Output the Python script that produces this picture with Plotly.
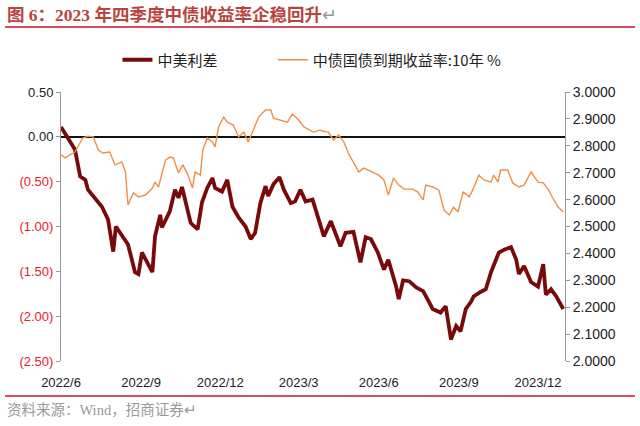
import plotly.graph_objects as go
import pandas as pd

# 中美利差 (左轴)
spread_dates = [
    '2022-06-01', '2022-06-09', '2022-06-17', '2022-06-23', '2022-06-29', '2022-07-02',
    '2022-07-10', '2022-07-18', '2022-07-25', '2022-07-31', '2022-08-03', '2022-08-10',
    '2022-08-17', '2022-08-25', '2022-08-29', '2022-09-02', '2022-09-08', '2022-09-14',
    '2022-09-17', '2022-09-23', '2022-09-25', '2022-10-04', '2022-10-10', '2022-10-14',
    '2022-10-18', '2022-10-28', '2022-10-30', '2022-11-05', '2022-11-10', '2022-11-16',
    '2022-11-22', '2022-11-25', '2022-12-03', '2022-12-09', '2022-12-15', '2022-12-22',
    '2022-12-30', '2023-01-05', '2023-01-10', '2023-01-16', '2023-01-22', '2023-01-25',
    '2023-01-31', '2023-02-07', '2023-02-12', '2023-02-20', '2023-02-25', '2023-03-03',
    '2023-03-09', '2023-03-17', '2023-03-24', '2023-03-30', '2023-04-07', '2023-04-12',
    '2023-04-18', '2023-04-24', '2023-05-03', '2023-05-11', '2023-05-17', '2023-05-23',
    '2023-05-31', '2023-06-07', '2023-06-12', '2023-06-21', '2023-06-24', '2023-06-29',
    '2023-07-06', '2023-07-14', '2023-07-22', '2023-07-27', '2023-08-02', '2023-08-11',
    '2023-08-17', '2023-08-23', '2023-08-29', '2023-09-03', '2023-09-09', '2023-09-15',
    '2023-09-18', '2023-09-26', '2023-10-02', '2023-10-08', '2023-10-11', '2023-10-17',
    '2023-10-23', '2023-10-31', '2023-11-06', '2023-11-09', '2023-11-15', '2023-11-23',
    '2023-12-01', '2023-12-07', '2023-12-10', '2023-12-16', '2023-12-22', '2023-12-30',
]
spread = [
    0.11, -0.01, -0.14, -0.44, -0.48, -0.59,
    -0.68, -0.78, -0.92, -1.28, -1.00, -1.11,
    -1.20, -1.51, -1.53, -1.29, -1.40, -1.51,
    -1.11, -0.87, -1.01, -0.83, -0.59, -0.68,
    -0.56, -0.96, -0.98, -1.03, -0.73, -0.57,
    -0.46, -0.57, -0.61, -0.48, -0.78, -0.90,
    -1.00, -1.14, -1.07, -0.74, -0.55, -0.66,
    -0.53, -0.45, -0.59, -0.74, -0.72, -0.59,
    -0.72, -0.70, -0.92, -1.11, -0.94, -1.07,
    -1.22, -1.07, -1.06, -1.40, -1.12, -1.14,
    -1.29, -1.48, -1.37, -1.67, -1.81, -1.60,
    -1.61, -1.68, -1.72, -1.81, -1.92, -1.96,
    -1.89, -2.26, -2.11, -2.17, -1.92, -1.84,
    -1.78, -1.73, -1.70, -1.51, -1.44, -1.29,
    -1.26, -1.23, -1.37, -1.53, -1.44, -1.62,
    -1.67, -1.42, -1.76, -1.70, -1.78, -1.92,
]

# 中债国债到期收益率:10年 (右轴)
yield_dates = [
    '2022-06-01', '2022-06-06', '2022-06-11', '2022-06-17', '2022-06-26', '2022-07-02',
    '2022-07-08', '2022-07-14', '2022-07-19', '2022-07-27', '2022-08-02', '2022-08-10',
    '2022-08-14', '2022-08-17', '2022-08-23', '2022-08-29', '2022-09-06', '2022-09-14',
    '2022-09-17', '2022-09-21', '2022-09-29', '2022-10-04', '2022-10-08', '2022-10-14',
    '2022-10-19', '2022-10-25', '2022-10-30', '2022-11-02', '2022-11-08', '2022-11-11',
    '2022-11-16', '2022-11-22', '2022-11-25', '2022-11-29', '2022-12-05', '2022-12-09',
    '2022-12-16', '2022-12-22', '2022-12-28', '2023-01-02', '2023-01-08', '2023-01-14',
    '2023-01-22', '2023-01-28', '2023-01-31', '2023-02-10', '2023-02-16', '2023-02-22',
    '2023-03-01', '2023-03-07', '2023-03-18', '2023-03-26', '2023-03-28', '2023-04-04',
    '2023-04-10', '2023-04-16', '2023-04-22', '2023-04-27', '2023-05-03', '2023-05-09',
    '2023-05-15', '2023-05-20', '2023-05-26', '2023-06-01', '2023-06-07', '2023-06-12',
    '2023-06-18', '2023-06-24', '2023-06-30', '2023-07-10', '2023-07-16', '2023-07-22',
    '2023-07-25', '2023-08-02', '2023-08-09', '2023-08-15', '2023-08-21', '2023-08-26',
    '2023-08-31', '2023-09-06', '2023-09-13', '2023-09-17', '2023-09-24', '2023-09-30',
    '2023-10-08', '2023-10-11', '2023-10-16', '2023-10-19', '2023-10-27', '2023-11-02',
    '2023-11-09', '2023-11-15', '2023-11-23', '2023-12-01', '2023-12-07', '2023-12-13',
    '2023-12-18', '2023-12-24', '2023-12-30',
]
yield10 = [
    2.766, 2.755, 2.766, 2.777, 2.829, 2.836,
    2.833, 2.784, 2.773, 2.777, 2.729, 2.740,
    2.703, 2.580, 2.625, 2.610, 2.617, 2.643,
    2.665, 2.647, 2.747, 2.758, 2.755, 2.699,
    2.729, 2.691, 2.643, 2.703, 2.691, 2.784,
    2.829, 2.814, 2.796, 2.870, 2.907, 2.888,
    2.877, 2.833, 2.851, 2.814, 2.859, 2.907,
    2.933, 2.933, 2.903, 2.892, 2.888, 2.918,
    2.896, 2.870, 2.851, 2.859, 2.855, 2.851,
    2.822, 2.840, 2.814, 2.773, 2.740, 2.703,
    2.717, 2.710, 2.699, 2.691, 2.673, 2.617,
    2.680, 2.654, 2.639, 2.639, 2.628, 2.599,
    2.654, 2.647, 2.636, 2.561, 2.543, 2.572,
    2.554, 2.628, 2.610, 2.636, 2.691, 2.673,
    2.665, 2.691, 2.665, 2.710, 2.710, 2.662,
    2.647, 2.654, 2.703, 2.665, 2.662, 2.636,
    2.606, 2.572, 2.554,
]

x_ticks = ['2022-06-01', '2022-09-01', '2022-12-01', '2023-03-01', '2023-06-01', '2023-09-01', '2023-12-01']
x_labels = ['2022/6', '2022/9', '2022/12', '2023/3', '2023/6', '2023/9', '2023/12']
left_ticks = [0.5, 0.0, -0.5, -1.0, -1.5, -2.0, -2.5]
right_ticks = [3.0, 2.9, 2.8, 2.7, 2.6, 2.5, 2.4, 2.3, 2.2, 2.1, 2.0]


def fmt_left(v):
    if v < 0:
        return f"<span style='color:#E8202A'>({abs(v):.2f})</span>"
    return f"{v:.2f}"


fig = go.Figure()
# 图例间距用不换行空格撑开
fig.add_trace(go.Scatter(x=pd.to_datetime(spread_dates), y=spread, name='中美利差' + '\u00a0' * 15,
                         mode='lines', line=dict(color='#7A0A0A', width=3.8)))
fig.add_trace(go.Scatter(x=pd.to_datetime(yield_dates), y=yield10, name='中债国债到期收益率:10年 %',
                         mode='lines', line=dict(color='#F09048', width=1.4), yaxis='y2'))

axis_font = dict(family='Liberation Sans, Arial', size=13, color='#222')

fig.update_layout(
    width=640, height=426,
    margin=dict(l=61, r=75, t=92, b=65, autoexpand=False),
    paper_bgcolor='white', plot_bgcolor='white',
    showlegend=True,
    legend=dict(orientation='h', x=0.112, y=1.119, xanchor='left', yanchor='middle',
                font=dict(family='Noto Sans CJK SC', size=15, color='#222'),
                tracegroupgap=0, itemwidth=30, bgcolor='rgba(0,0,0,0)'),
    xaxis=dict(type='date', range=['2022-06-01', '2024-01-01'],
               tickvals=x_ticks, ticktext=x_labels, showgrid=False, showline=False,
               ticks='', tickfont=axis_font, ticklabelstandoff=12, zeroline=False),
    yaxis=dict(range=[-2.5, 0.5], tickvals=left_ticks, ticktext=[fmt_left(v) for v in left_ticks],
               showgrid=False, showline=True, linecolor='#999', linewidth=1,
               ticks='outside', ticklen=4, tickcolor='#999', tickfont=axis_font,
               zeroline=True, zerolinecolor='#111', zerolinewidth=1.5),
    yaxis2=dict(range=[2.0, 3.0], tickvals=right_ticks, ticktext=[f"{v:.4f}" for v in right_ticks],
                overlaying='y', side='right', showgrid=False, showline=True,
                linecolor='#999', linewidth=1, ticks='outside', ticklen=4, tickcolor='#999',
                tickfont=dict(family='Liberation Sans, Arial', size=14, color='#222'),
                zeroline=False),
)

# 标题与来源
fig.add_annotation(x=-0.111, y=1.286, xref='paper', yref='paper', xanchor='left', yanchor='middle',
                   showarrow=False,
                   text="<b>图 6：2023 年四季度中债收益率企稳回升</b><span style='color:#999'>↵</span>",
                   font=dict(family='Liberation Serif, Noto Sans CJK SC', size=17.5, color='#B8453C'))
fig.add_annotation(x=-0.111, y=-0.182, xref='paper', yref='paper', xanchor='left', yanchor='middle',
                   showarrow=False, text='资料来源：Wind，招商证券↵',
                   font=dict(family='Liberation Serif, Noto Sans CJK SC', size=14.5, color='#999'))
fig.add_shape(type='line', xref='paper', yref='paper', x0=-0.111, x1=1.139, y0=1.242, y1=1.242,
              line=dict(color='#C8102E', width=1.5))
fig.add_shape(type='line', xref='paper', yref='paper', x0=-0.111, x1=1.139, y0=-0.130, y1=-0.130,
              line=dict(color='#C8102E', width=1.5))

fig.write_html("out.html", config={'displayModeBar': False},
               post_script="document.body.style.margin='0';")
